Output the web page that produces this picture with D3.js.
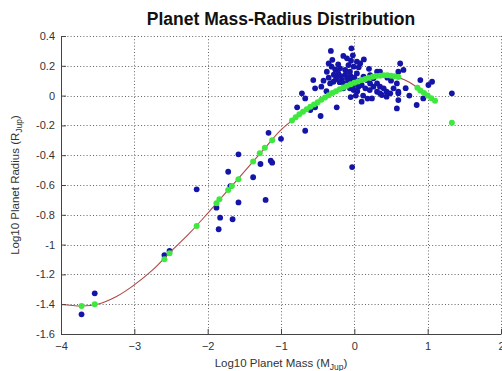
<!DOCTYPE html>
<html>
<head>
<meta charset="utf-8">
<script src="https://cdn.jsdelivr.net/npm/d3@7"></script>
<style>
  html, body { margin: 0; padding: 0; background: #fff; }
  svg { display: block; font-family: "Liberation Sans", Arial, Helvetica, sans-serif; }
</style>
</head>
<body>
<svg id="chart" width="502" height="371"></svg>
<script>
// ---------------- data ----------------
const title = "Planet Mass-Radius Distribution";
const xTicks = [-4, -3, -2, -1, 0, 1, 2];
const yTicks = [0.4, 0.2, 0, -0.2, -0.4, -0.6, -0.8, -1, -1.2, -1.4, -1.6];

// observed planets (blue)
const blueX = [-3.72, -3.54, -2.59, -2.52, -2.15, -1.88, -1.83, -1.85, -1.66, -1.72, -1.69, -1.58, -1.58, -1.38, -1.28, -1.21, -1.14, -1.12,
  -1.17, -1.0,
  -0.32, -0.04, -0.15, -0.045, 0.13, -0.35, -0.31, -0.375, -0.26, -0.195, -0.125, -0.08, -0.01, -0.06, 0.035,
  -0.24, -0.285, -0.33, -0.17, -0.10, -0.035, 0.01, -0.10, -0.06, -0.01, 0.055, 0.10, -0.15,
  -0.56, -0.535, -0.715, -0.67, -0.78, -0.60, -0.535, -0.46, -0.67, -0.24, 0.10, 0.24,
  0.215, 0.31, 0.35, 0.26, 0.31, 0.35, 0.40, 0.44, 0.49, 0.375, 0.44, 0.535, 0.60,
  0.625, 0.67, 0.60, 0.58, 0.60, 0.60, 0.58, 0.85, 0.90, 1.01, 1.06, 0.94, 1.33,
  0.035, 0.08, 0.125, 0.17, 0.215, 0.26, 0.15, 0.21, 0.31, 0.35,
  -0.28, -0.22, -0.18, -0.12, -0.05, 0.0, -0.2, -0.14, -0.08, -0.02, 0.04, 0.07, -0.25, -0.35, -0.42, -0.45, -0.38,
  0.12, 0.18, 0.02, -0.05, 0.5, 0.45, 0.7, 0.75, -0.03,
  -0.1, -0.02, 0.06, -0.22, -0.3, 0.2];
const blueY = [-1.468, -1.327, -1.07, -1.043, -0.629, -0.752, -0.819, -0.897, -0.83, -0.511, -0.607, -0.394, -0.717, -0.548, -0.459, -0.70, -0.437, -0.45,
  -0.25, -0.29,
  0.30, 0.317, 0.266, 0.234, 0.243, 0.216, 0.194, 0.16, 0.176, 0.183, 0.172, 0.205, 0.194, 0.16, 0.149,
  0.127, 0.093, 0.082, 0.104, 0.116, 0.104, 0.082, 0.071, 0.049, 0.037, 0.06, 0.071, 0.049,
  0.104, 0.049, 0.015, -0.019, -0.079, -0.097, -0.079, -0.137, -0.236, -0.079, -0.041, -0.019,
  0.138, 0.16, 0.16, 0.116, 0.082, 0.06, 0.049, 0.026, 0.015, 0.004, -0.007, 0.049, 0.026,
  0.216, 0.172, 0.16, 0.082, -0.03, 0.015, -0.086, -0.063, 0.104, 0.071, 0.093, -0.019, 0.015,
  0.228, 0.216, 0.127, 0.104, 0.082, 0.06, 0.049, 0.037, 0.026, 0.015,
  0.14, 0.15, 0.13, 0.14, 0.13, 0.12, 0.09, 0.08, 0.09, 0.06, 0.03, 0.10, 0.11, 0.12, 0.10, 0.06, 0.03,
  0.0, -0.02, 0.0, -0.01, 0.10, 0.12, 0.05, 0.0, -0.48,
  0.25, 0.27, 0.19, 0.21, 0.24, 0.18];

// model planets (green)
const greenX = [-3.72, -3.54, -2.59, -2.52, -2.15, -1.88, -1.84, -1.72, -1.67, -1.58, -1.38, -1.29,
  -1.22, -1.12, -0.85, -0.8, -0.75, -0.7, -0.65, -0.6, -0.55, -0.5, -0.45, -0.4, -0.35, -0.3, -0.25, -0.2, -0.15, -0.1, -0.05,
  0.0, 0.05, 0.1, 0.15, 0.2, 0.25, 0.3, 0.35, 0.4, 0.45, 0.5, 0.55, 0.6,
  0.86, 0.9, 0.95, 1.0, 1.05, 1.1, 1.33];
const greenY = [-1.412, -1.40, -1.099, -1.058, -0.875, -0.723, -0.696, -0.634, -0.607, -0.562, -0.443, -0.387,
  -0.35, -0.30, -0.167, -0.146, -0.126, -0.108, -0.091, -0.075, -0.06, -0.044, -0.028, -0.012, 0.003, 0.017, 0.03, 0.043, 0.055, 0.066, 0.077,
  0.086, 0.095, 0.104, 0.112, 0.12, 0.126, 0.131, 0.134, 0.136, 0.136, 0.134, 0.13, 0.124,
  0.052, 0.035, 0.018, 0.0, -0.017, -0.035, -0.182];

// fitted relation (red line)
const fitX = [-4, -3.72, -3.5, -3.25, -3.0, -2.75, -2.5, -2.25, -2.0, -1.75, -1.5, -1.25, -1.0, -0.75, -0.5, -0.25, 0, 0.25, 0.5, 0.75, 1.0, 1.1];
const fitY = [-1.40, -1.412, -1.40, -1.35, -1.27, -1.17, -1.045, -0.925, -0.79, -0.65, -0.51, -0.37, -0.23, -0.13, -0.044, 0.03, 0.086, 0.126, 0.134, 0.09, 0.0, -0.035];

// ---------------- layout ----------------
const svg = d3.select("#chart");
const L = 61, R = 501, T = 36, B = 334;
const x = d3.scaleLinear().domain([-4, 2]).range([L, R]);
const y = d3.scaleLinear().domain([-1.6, 0.4]).range([B, T]);

// grid
const grid = svg.append("g").attr("stroke", "#666").attr("stroke-width", 1)
  .attr("stroke-dasharray", "1,2.2").attr("fill", "none");
xTicks.filter(v => v !== -4).forEach(v => {
  grid.append("line").attr("x1", Math.round(x(v)) + 0.5).attr("x2", Math.round(x(v)) + 0.5)
    .attr("y1", T).attr("y2", B);
});
yTicks.filter(v => v !== -1.6).forEach(v => {
  grid.append("line").attr("x1", L).attr("x2", R)
    .attr("y1", Math.round(y(v)) + 0.5).attr("y2", Math.round(y(v)) + 0.5);
});

// blue points
const blue = blueX.map((v, i) => [v, blueY[i]]);
svg.append("g").selectAll("circle").data(blue).join("circle")
  .attr("cx", d => x(d[0])).attr("cy", d => y(d[1])).attr("r", 2.9)
  .attr("fill", "#1414a8");

// red fit line
const fit = fitX.map((v, i) => [v, fitY[i]]);
svg.append("path").datum(fit)
  .attr("d", d3.line().x(d => x(d[0])).y(d => y(d[1])).curve(d3.curveCatmullRom))
  .attr("fill", "none").attr("stroke", "#b04848").attr("stroke-width", 1.1);

// green points
const green = greenX.map((v, i) => [v, greenY[i]]);
svg.append("g").selectAll("circle").data(green).join("circle")
  .attr("cx", d => x(d[0])).attr("cy", d => y(d[1])).attr("r", 3)
  .attr("fill", "#3ee83e");

// axes
const xAxis = d3.axisBottom(x).tickValues(xTicks).tickFormat(d3.format("d"))
  .tickSizeInner(-5).tickSizeOuter(0).tickPadding(8);
const yAxis = d3.axisLeft(y).tickValues(yTicks).tickFormat(d => d === 0 ? "0" : String(d))
  .tickSizeInner(-5).tickSizeOuter(0).tickPadding(6);

const gx = svg.append("g").attr("transform", `translate(0,${B})`).call(xAxis);
const gy = svg.append("g").attr("transform", `translate(${L},0)`).call(yAxis);
[gx, gy].forEach(g => {
  g.select(".domain").attr("stroke", "#444");
  g.selectAll(".tick line").attr("stroke", "#444");
  g.selectAll("text").attr("font-size", 11).attr("fill", "#333")
    .attr("font-family", "Liberation Sans, Arial, sans-serif");
});
gx.selectAll(".tick text").attr("dy", "0.71em");

// title
svg.append("text").attr("x", (L + R) / 2).attr("y", 25).attr("text-anchor", "middle")
  .attr("font-size", 17.5).attr("font-weight", "bold").attr("fill", "#111").text(title);

// x label
const xl = svg.append("text").attr("x", (L + R) / 2).attr("y", 367).attr("text-anchor", "middle")
  .attr("font-size", 11.5).attr("fill", "#333");
xl.append("tspan").text("Log10 Planet Mass (M");
xl.append("tspan").attr("font-size", 8.5).attr("dy", 3).text("Jup");
xl.append("tspan").attr("dy", -3).text(")");

// y label
const yl = svg.append("text").attr("transform", `translate(19,${(T + B) / 2}) rotate(-90)`)
  .attr("text-anchor", "middle").attr("font-size", 11.5).attr("fill", "#333");
yl.append("tspan").text("Log10 Planet Radius (R");
yl.append("tspan").attr("font-size", 8.5).attr("dy", 3).text("Jup");
yl.append("tspan").attr("dy", -3).text(")");
</script>
</body>
</html>
